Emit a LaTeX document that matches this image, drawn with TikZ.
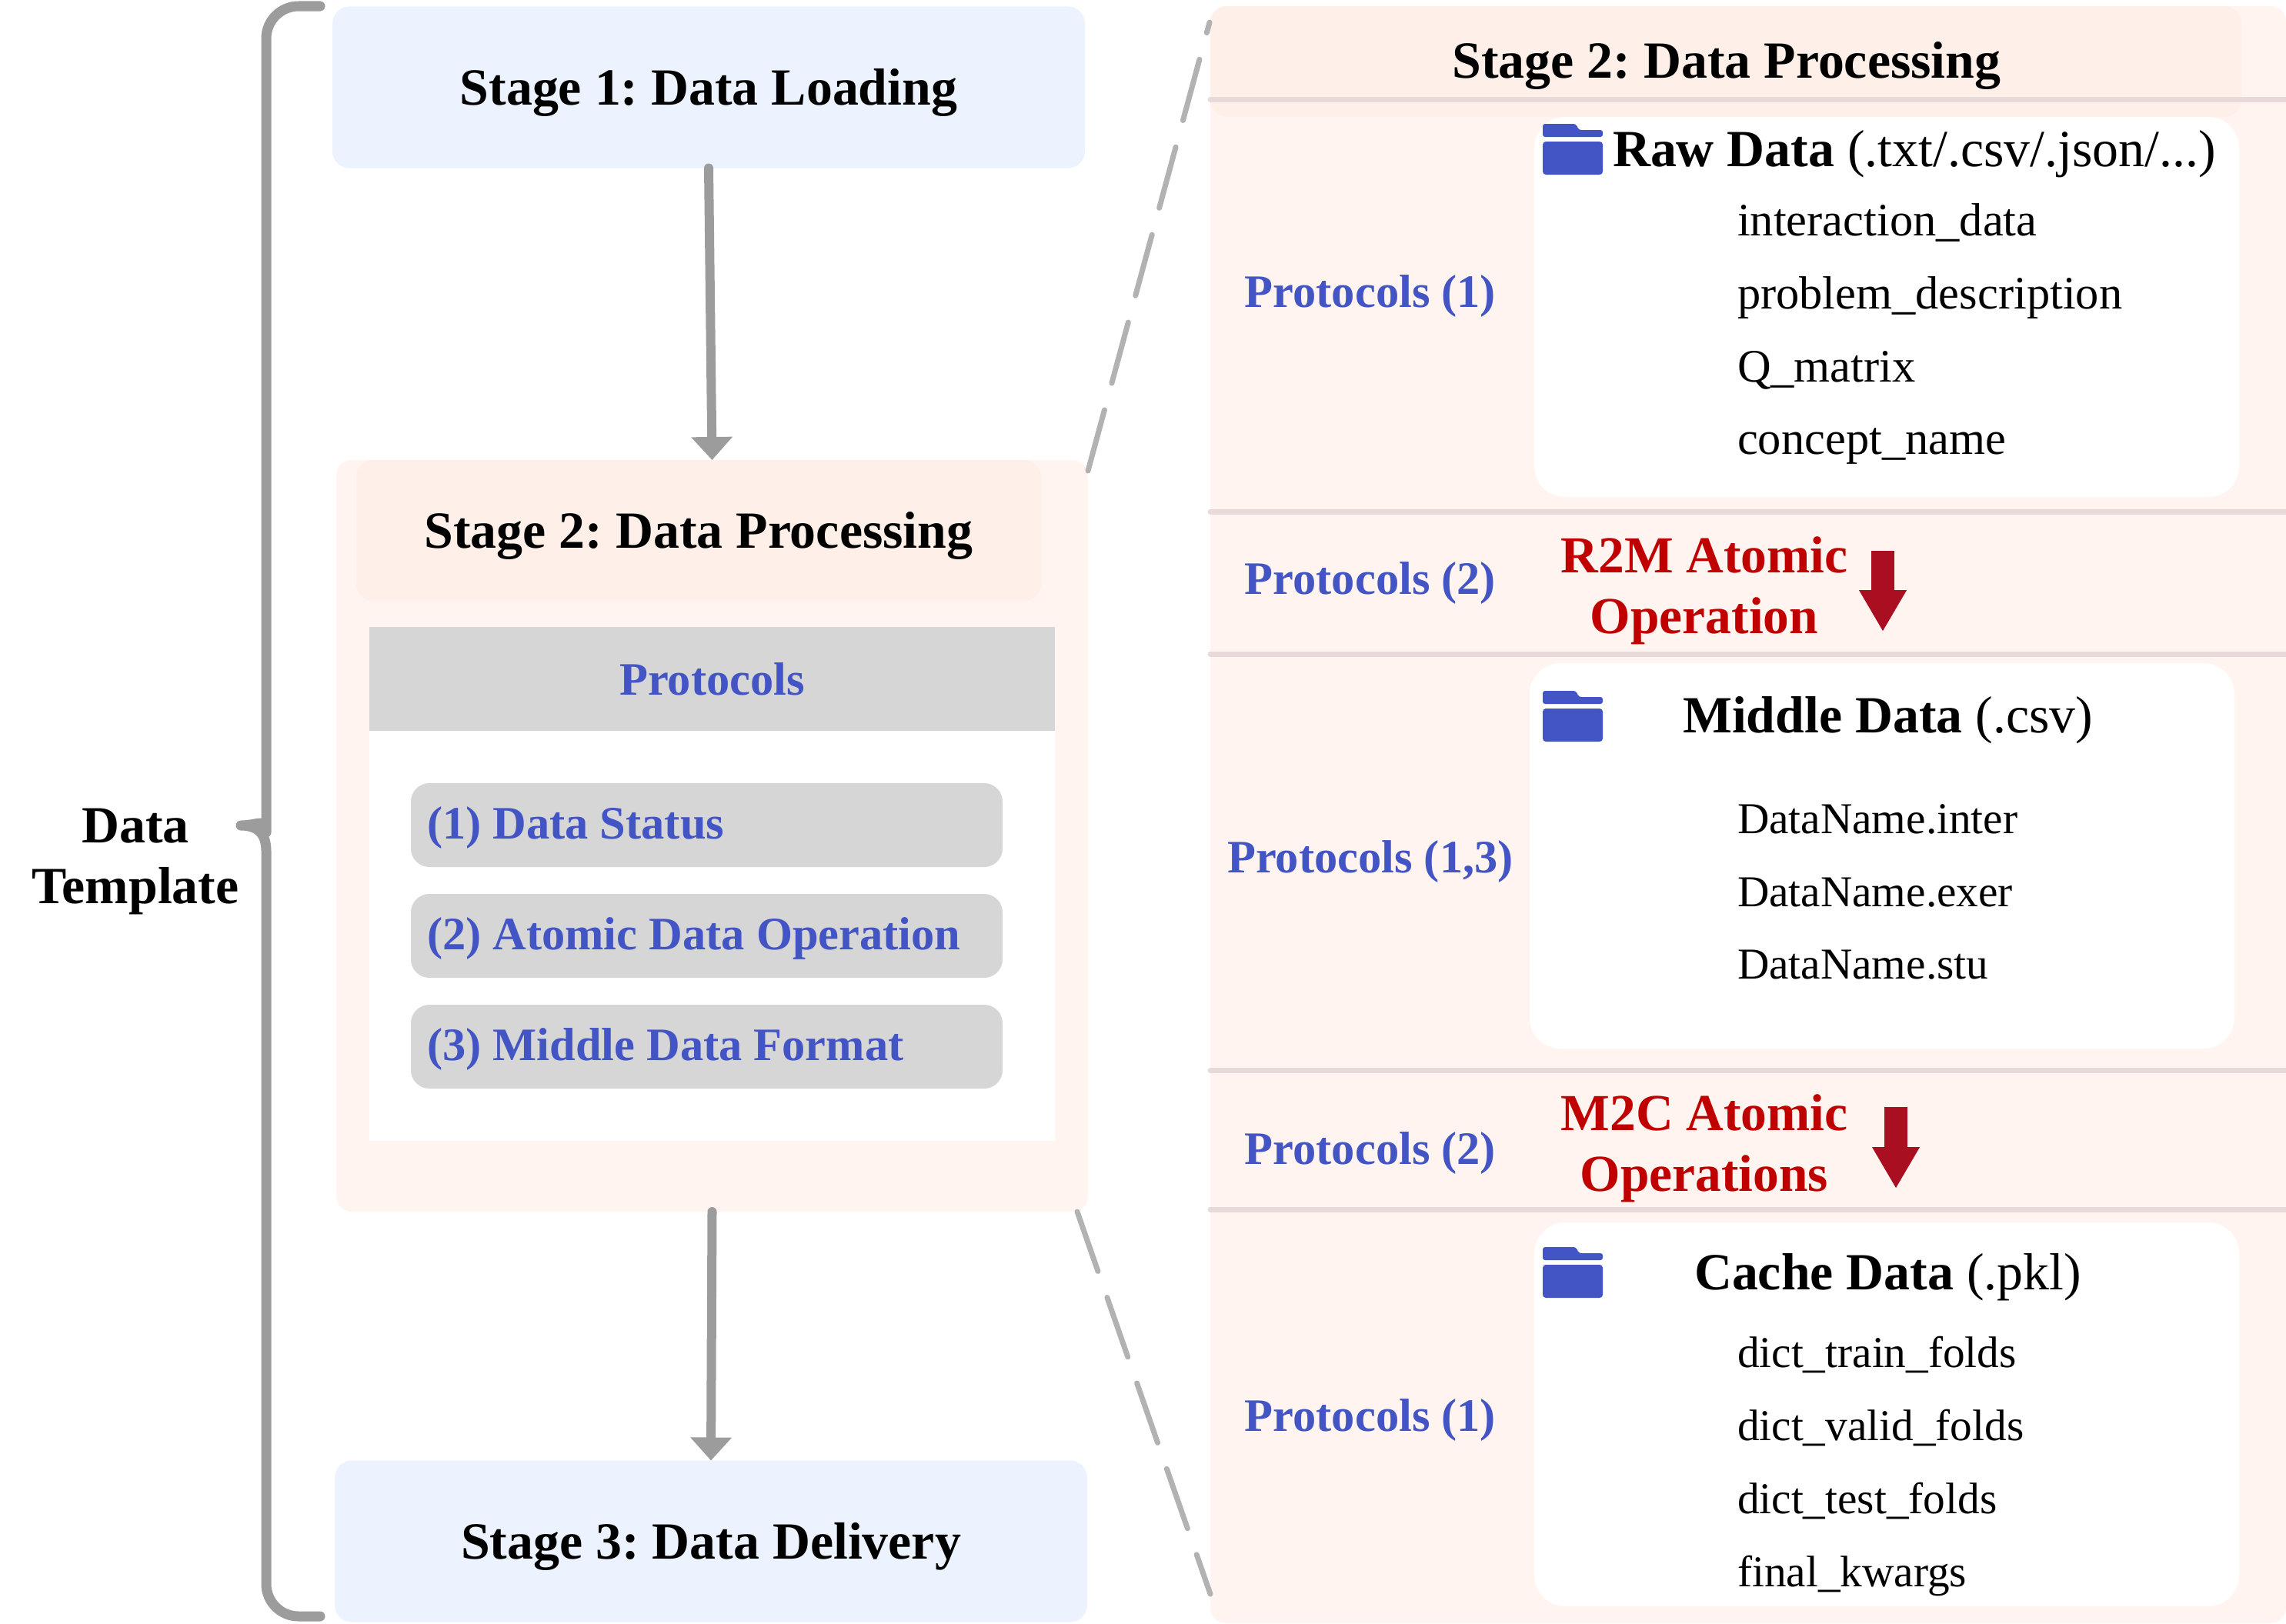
\documentclass[tikz,border=0pt]{standalone}
\usepackage{fontspec}
\setmainfont{Liberation Serif}
\usetikzlibrary{arrows.meta,positioning,calc}

\definecolor{stageblue}{HTML}{ECF3FE}
\definecolor{stageorange}{HTML}{FFF4EF}
\definecolor{headorange}{HTML}{FEF0E8}
\definecolor{protoblue}{HTML}{4355C4}
\definecolor{protogray}{HTML}{D6D6D6}
\definecolor{atomred}{HTML}{C00000}
\definecolor{arrowred}{HTML}{A90F20}
\definecolor{rulepink}{HTML}{E8DADA}

\frenchspacing
\begin{document}
\begin{tikzpicture}[
  panel/.style={inner sep=0pt, outer sep=0pt, align=center},
  stagebox/.style={panel, fill=stageblue, rounded corners=0.22cm, minimum width=9.78cm,
              minimum height=2.1cm, text height=15.5pt, text depth=2.5pt,
              font=\fontsize{19.3}{23}\selectfont\bfseries},
  outerbox/.style={panel, fill=stageorange, rounded corners=0.2cm},
  headbox/.style={panel, fill=headorange, rounded corners=0.22cm, text height=15.5pt, text depth=2.5pt,
              font=\fontsize{19.3}{23}\selectfont\bfseries},
  whitebox/.style={panel, fill=white, rounded corners=0.4cm, minimum width=9.16cm},
  pill/.style={panel, fill=protogray, rounded corners=0.24cm, minimum width=7.69cm,
              minimum height=1.09cm, text width=7.27cm, align=flush left, text=protoblue,
              text height=12pt, text depth=1.6pt,
              font=\fontsize{17.2}{21}\selectfont\bfseries},
  proto/.style={panel, text=protoblue, text height=13pt, text depth=1.1pt,
              font=\fontsize{17.2}{21}\selectfont\bfseries},
  atom/.style={panel, text=atomred, font=\fontsize{19.2}{22.4}\selectfont\bfseries},
  title/.style={panel, anchor=west, text height=15pt, text depth=3pt,
              font=\fontsize{19.3}{23}\selectfont},
  item/.style={panel, anchor=west, text height=13.4pt, text depth=2.6pt,
              font=\fontsize{17.2}{21}\selectfont},
  smallitem/.style={item, font=\fontsize{16.3}{20}\selectfont},
  arr/.style={-{Triangle[width=0.52cm, length=0.3cm]}, line width=0.12cm, gray!78, line cap=round},
  redarr/.style={-{Triangle[width=0.58cm, length=0.54cm]}, line width=0.3cm, arrowred},
  zoomline/.style={line width=0.07cm, gray!60, line cap=round, dash pattern=on 0.82cm off 0.36cm},
  rulemark/.style={line width=0.07cm, rulepink, line cap=round},
  folderico/.pic={
    \fill[protoblue, rounded corners=0.03cm] (0,-0.17) -- (0,0) -- (0.43,0) -- (0.47,-0.08)
        -- (0.78,-0.08) -- (0.78,-0.17) -- cycle;
    \fill[protoblue, rounded corners=0.04cm] (0,-0.23) rectangle (0.78,-0.66);
  },
]
\useasboundingbox (0,0) rectangle (29.71,-21.10);

% left column
\node[stagebox] (stageone) at (9.21,-1.135) {Stage 1: Data Loading};
\node[outerbox, minimum width=9.77cm, minimum height=9.77cm] (stagetwo) at (9.255,-10.865) {};
\node[headbox, minimum width=8.9cm, minimum height=1.83cm] (stagehead) at (9.08,-6.895)
    {Stage 2: Data Processing};
\node[panel, fill=white, minimum width=8.91cm, minimum height=5.33cm] (protobody) at (9.255,-12.165) {};
\node[proto, fill=protogray, minimum width=8.91cm, minimum height=1.35cm] (protohead) at (9.255,-8.825) {Protocols};
\node[pill] (pillone) at (9.185,-10.725) {(1) Data Status};
\node[pill, below=0.35cm of pillone] (pilltwo) {(2) Atomic Data Operation};
\node[pill, below=0.35cm of pilltwo] (pillthree) {(3) Middle Data Format};
\node[stagebox] (stagethree) at (9.24,-20.035) {Stage 3: Data Delivery};

\draw[arr] (stageone.south) -- (stagetwo.north);
\draw[arr] (stagetwo.south) -- (stagethree.north);

% brace
\node[panel, font=\fontsize{19.3}{22.4}\selectfont\bfseries] (template) at (1.76,-11.2) {Data\\Template};
\coordinate (bracetop) at (4.16,-0.08);
\coordinate (bracetip) at (3.13,-10.73);
\coordinate (bracebot) at (4.16,-21.01);
\draw[line width=0.13cm, gray!78, line cap=round, line join=round]
    (bracetop) [rounded corners=0.42cm] -| (3.46,-10.4) [sharp corners]
    .. controls (3.46,-10.62) and (3.35,-10.73) .. (bracetip)
    .. controls (3.35,-10.73) and (3.46,-10.84) .. (3.46,-11.06)
    [rounded corners=0.42cm] |- (bracebot);

% right panel
\node[outerbox, minimum width=13.98cm, minimum height=21.02cm] (detail) at (22.72,-10.59) {};
\node[headbox, minimum width=13.4cm, minimum height=1.44cm] (detailhead) at (22.43,-0.8) {};
\node[panel, text height=15pt, text depth=3pt, font=\fontsize{19.3}{23}\selectfont\bfseries] (detailtitle) at (22.44,-0.8) {Stage 2: Data Processing};

\coordinate (cutone) at (15.73,-1.295);
\coordinate (cuttwo) at (15.73,-6.65);
\coordinate (cutthree) at (15.73,-8.5);
\coordinate (cutfour) at (15.73,-13.915);
\coordinate (cutfive) at (15.73,-15.72);
\draw[rulemark] (cutone) -- ++(13.98,0);
\draw[rulemark] (cuttwo) -- ++(13.98,0);
\draw[rulemark] (cutthree) -- ++(13.98,0);
\draw[rulemark] (cutfour) -- ++(13.98,0);
\draw[rulemark] (cutfive) -- ++(13.98,0);

\node[whitebox, minimum height=4.94cm] (rawbox) at (24.52,-3.99) {};
\node[whitebox, minimum height=5.01cm] (midbox) at (24.46,-11.125) {};
\node[whitebox, minimum height=4.99cm] (cachebox) at (24.52,-18.385) {};

\pic at (20.05,-1.61) {folderico};
\pic at (20.05,-8.98) {folderico};
\pic at (20.05,-16.21) {folderico};

\node[proto] (protoraw) at (17.81,-3.79) {Protocols (1)};
\node[proto] (protorm) at (17.81,-7.52) {Protocols (2)};
\node[proto] (protomid) at (17.81,-11.14) {Protocols (1,3)};
\node[proto] (protomc) at (17.81,-14.93) {Protocols (2)};
\node[proto] (protocache) at (17.81,-18.4) {Protocols (1)};

\node[title] (rawtitle) at (20.96,-1.95) {\textbf{Raw Data} (.txt/.csv/.json/...)};
\node[item] (rawa) at (22.58,-2.88) {interaction\_data};
\node[item] (rawb) at (22.58,-3.83) {problem\_description};
\node[item] (rawc) at (22.58,-4.78) {Q\_matrix};
\node[item] (rawd) at (22.58,-5.72) {concept\_name};

\node[atom] (rtom) at (22.15,-7.68) {R2M Atomic\\Operation};
\coordinate (rtomtop) at (24.47,-7.16);
\coordinate (rtombot) at (24.47,-8.21);
\draw[redarr] (rtomtop) -- (rtombot);

\node[title] (midtitle) at (21.87,-9.31) {\textbf{Middle Data} (.csv)};
\node[smallitem] (mida) at (22.58,-10.65) {DataName.inter};
\node[smallitem] (midb) at (22.58,-11.6) {DataName.exer};
\node[smallitem] (midc) at (22.58,-12.54) {DataName.stu};

\node[atom] (mtoc) at (22.15,-14.93) {M2C Atomic\\Operations};
\coordinate (mtoctop) at (24.64,-14.39);
\coordinate (mtocbot) at (24.64,-15.45);
\draw[redarr] (mtoctop) -- (mtocbot);

\node[title] (cachetitle) at (22.02,-16.55) {\textbf{Cache Data} (.pkl)};
\node[smallitem] (cachea) at (22.58,-17.58) {dict\_train\_folds};
\node[smallitem] (cacheb) at (22.58,-18.53) {dict\_valid\_folds};
\node[smallitem] (cachec) at (22.58,-19.48) {dict\_test\_folds};
\node[smallitem] (cached) at (22.58,-20.43) {final\_kwargs};

% zoom lines
\coordinate (zoomtop) at (15.72,-0.29);
\coordinate (zoombot) at (15.73,-20.72);
\draw[zoomline] ($(stagetwo.north east)+(0,-0.14)$) -- (zoomtop);
\draw[zoomline] ($(stagetwo.south east)+(-0.14,0)$) -- (zoombot);
\end{tikzpicture}
\end{document}
